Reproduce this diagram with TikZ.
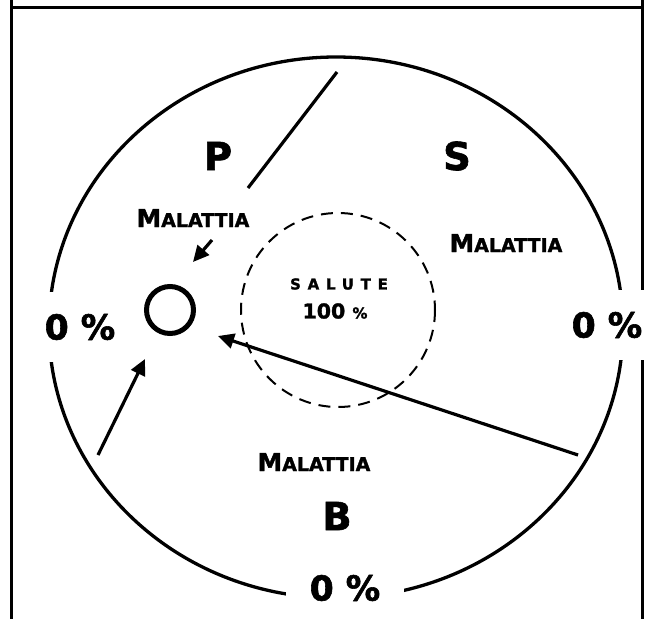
\documentclass[tikz,border=0pt]{standalone}
\usepackage{fontspec}
\setmainfont[BoldFeatures={FakeBold=1.6}]{DejaVu Sans}
\usetikzlibrary{arrows.meta}

\begin{document}
\begin{tikzpicture}[
  x=1pt,y=-1pt,line width=3pt,
  font=\bfseries,
  flow/.style={-{Triangle[length=16pt,width=15pt]},line width=3.2pt},
  zone/.style={font=\bfseries\fontsize{38.5}{40}\selectfont,inner sep=0pt},
  pct/.style={font=\bfseries\fontsize{34.5}{36}\selectfont,fill=white,inner xsep=4pt,inner ysep=22pt},
  sick/.style={font=\bfseries\fontsize{24.7}{26}\selectfont,inner sep=1pt}
]
\useasboundingbox (0,0) rectangle (651,619);
% table cell
\draw (11,0) -- (11,619) (642,0) -- (642,619) (11,7) -- (642,7);
% outer field and health zone
\draw[line width=3.3pt] (336,327.5) ellipse [x radius=287,y radius=270.5];
\draw[line width=2pt,dash pattern=on 12pt off 8pt] (338,310) circle [radius=97];
\node[circle,draw,line width=5pt,minimum size=47pt,inner sep=0pt] (spot) at (170,310) {};
% paths towards the spot
\coordinate (pA) at (337,72);
\coordinate (pB) at (248,188);
\coordinate (pC) at (212,240);
\coordinate (pD) at (193,262);
\coordinate (bA) at (98,455);
\coordinate (bB) at (145,359);
\coordinate (sA) at (578,455);
\coordinate (sB) at (218,336);
\draw[line width=3.2pt] (pA) -- (pB);
\draw[flow] (pC) -- (pD);
\draw[flow] (bA) -- (bB);
\draw[flow] (sA) -- (sB);
% labels
\node[zone] (p) at (218,156) {P};
\node[zone] (s) at (457,156) {S};
\node[zone] (b) at (337,516) {B};
\node[sick] (malP) at (193,218) {M{\fontsize{19}{20}\selectfont ALATTIA}};
\node[sick] (malS) at (506,243) {M{\fontsize{19}{20}\selectfont ALATTIA}};
\node[sick] (malB) at (314,462) {M{\fontsize{19}{20}\selectfont ALATTIA}};
\node[font=\bfseries\fontsize{15}{16}\selectfont\addfontfeature{LetterSpace=45},inner sep=0pt] (salute) at (339,284) {SALUTE};
\node[font=\bfseries\fontsize{20.5}{22}\selectfont,inner sep=0pt] (full) at (335,311) {100 {\fontsize{15}{16}\selectfont\%}};
\node[pct] (zeroL) at (80,327) {0 \%};
\node[pct] (zeroR) at (607,325) {0 \%};
\node[pct,inner xsep=24pt,inner ysep=4pt] (zeroB) at (345,588) {0 \%};
\end{tikzpicture}
\end{document}
